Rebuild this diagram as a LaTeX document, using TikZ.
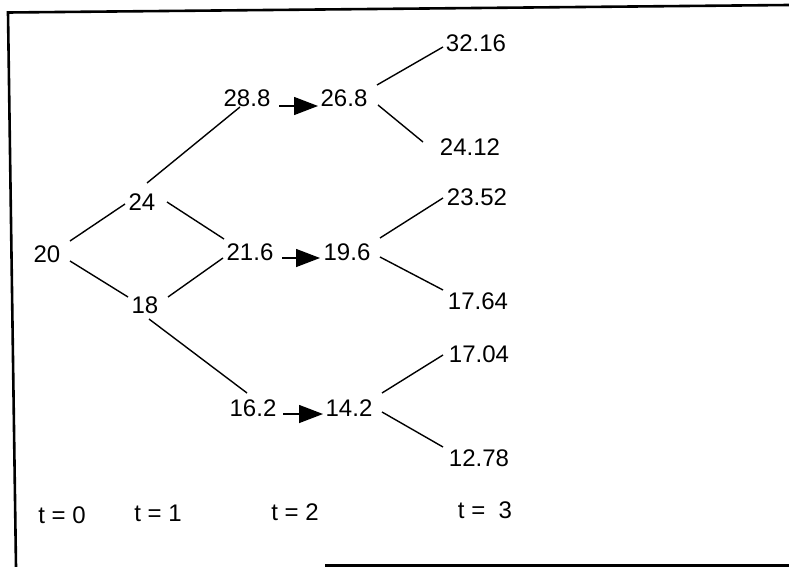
\documentclass[tikz,border=0pt]{standalone}
\usepackage{fontspec}
\setmainfont{Liberation Sans}
\usetikzlibrary{arrows.meta,calc}
\begin{document}
\begin{tikzpicture}[x=1pt,y=-1pt,
  val/.style={inner sep=0pt,text height=17.2pt,text depth=0pt,anchor=center,font=\fontsize{24}{28}\selectfont},
  link/.style={line width=1.4pt},
  steparrow/.style={line width=1.4pt,-{Triangle[length=24pt,width=18pt]}},
  frame/.style={line width=2.6pt}]
\useasboundingbox (0,0) rectangle (789,567);
% frame
\draw[frame] (789,5) -- (8,12.5) -- (16,567);
\draw[frame] (325,565.5) -- (789,565.5);
% nodes
\node[val] (a0) at (47,254) {20};
\node[val] (u1) at (142,202) {24};
\node[val] (d1) at (145,305) {18};
\node[val] (uu2) at (247,98) {28.8};
\node[val] (ud2) at (250,252) {21.6};
\node[val] (dd2) at (253,408) {16.2};
\node[val] (uuB) at (344,98) {26.8};
\node[val] (udB) at (347,252) {19.6};
\node[val] (ddB) at (349,408) {14.2};
\node[val] (l1) at (476,43) {32.16};
\node[val] (l2) at (470,147) {24.12};
\node[val] (l3) at (477,197) {23.52};
\node[val] (l4) at (478,301) {17.64};
\node[val] (l5) at (479,354) {17.04};
\node[val] (l6) at (479,458) {12.78};
\node[val] (t0) at (62,515) {t = 0};
\node[val] (t1) at (158,513) {t = 1};
\node[val] (t2) at (295,512) {t = 2};
\node[val] (t3) at (485,510) {t =\ \ 3};
% connectors
\draw[link] ($(a0)+(23,-13)$) -- ($(u1)+(-17,2)$);
\draw[link] ($(a0)+(23,7)$) -- ($(d1)+(-17,-8)$);
\draw[link] ($(u1)+(5,-19)$) -- ($(uu2)+(-7,9)$);
\draw[link] ($(u1)+(25,0)$) -- ($(ud2)+(-26,-13)$);
\draw[link] ($(d1)+(23,-8)$) -- ($(ud2)+(-27,6)$);
\draw[link] ($(d1)+(4,14)$) -- ($(dd2)+(-6,-15)$);
\draw[link] ($(uuB)+(33,-13)$) -- ($(l1)+(-33,4)$);
\draw[link] ($(uuB)+(34,7)$) -- ($(l2)+(-47,-5)$);
\draw[link] ($(udB)+(33,-14)$) -- ($(l3)+(-34,1)$);
\draw[link] ($(udB)+(33,5)$) -- ($(l4)+(-35,-11)$);
\draw[link] ($(ddB)+(33,-15)$) -- ($(l5)+(-36,1)$);
\draw[link] ($(ddB)+(33,4)$) -- ($(l6)+(-36,-11)$);
% shift arrows
\draw[steparrow] ($(uu2)+(32,8)$) -- ($(uuB)+(-26,8)$);
\draw[steparrow] ($(ud2)+(32,6)$) -- ($(udB)+(-27,6)$);
\draw[steparrow] ($(dd2)+(30,6)$) -- ($(ddB)+(-26,6)$);
\end{tikzpicture}
\end{document}
